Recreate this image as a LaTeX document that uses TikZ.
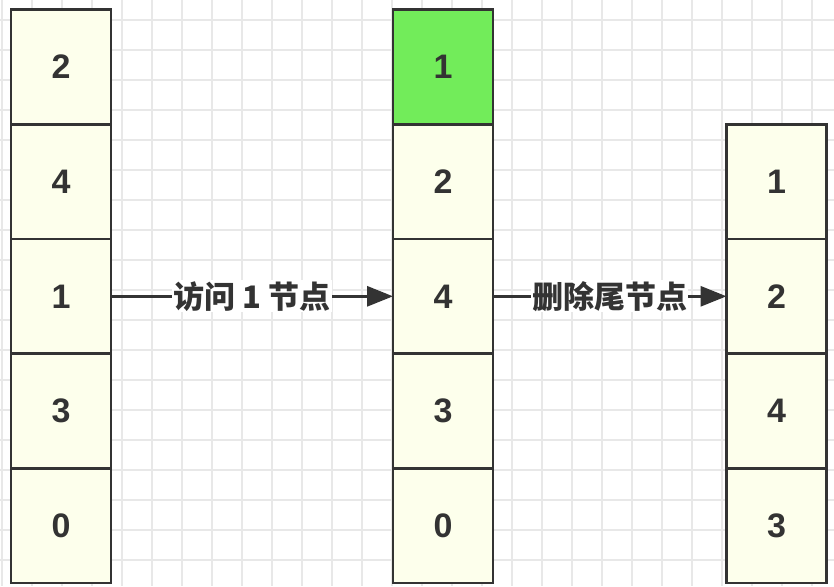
\documentclass[tikz,border=0pt]{standalone}
\usepackage{fontspec}
\setmainfont{Liberation Sans}
\newfontfamily\cjk{Noto Sans CJK SC}
\usetikzlibrary{arrows.meta}
\definecolor{cellfill}{HTML}{FDFFEC}
\definecolor{hotfill}{HTML}{72EC5A}
\definecolor{edge}{HTML}{333333}
\definecolor{gridc}{HTML}{E8E8E8}
\tikzset{
  cell/.style={draw=edge, line width=2.8pt, fill=cellfill, minimum width=100pt, minimum height=114.7pt, inner sep=0pt, outer sep=0pt, text=edge, font=\fontsize{34}{34}\selectfont\bfseries},
  hot/.style={cell, fill=hotfill},
  arr/.style={draw=edge, line width=3pt, -{Triangle[length=26pt,width=20pt]}},
  lbl/.style={fill=white, inner sep=1pt, text=edge, font=\cjk\fontsize{31}{31}\selectfont\bfseries}
}
\begin{document}
\begin{tikzpicture}[x=1pt,y=-1pt]
\useasboundingbox (0,0) rectangle (834,586);
\fill[white] (0,0) rectangle (834,586);
\foreach \gx in {2,32,...,834} \draw[gridc, line width=1.2pt] (\gx,0) -- (\gx,586);
\foreach \gy in {20,50,...,586} \draw[gridc, line width=1.2pt] (0,\gy) -- (834,\gy);
% left column
\node[cell] (l1) at (61,66.9) {2};
\node[cell] (l2) at (61,181.6) {4};
\node[cell] (l3) at (61,296.3) {1};
\node[cell] (l4) at (61,411.0) {3};
\node[cell] (l5) at (61,525.7) {0};
% middle column
\node[hot] (m1) at (443,66.9) {1};
\node[cell] (m2) at (443,181.6) {2};
\node[cell] (m3) at (443,296.3) {4};
\node[cell] (m4) at (443,411.0) {3};
\node[cell] (m5) at (443,525.7) {0};
% right column
\node[cell] (r2) at (776.5,181.6) {1};
\node[cell] (r3) at (776.5,296.3) {2};
\node[cell] (r4) at (776.5,411.0) {4};
\node[cell] (r5) at (776.5,525.7) {3};
% connectors
\draw[arr] (l3.east) -- node[lbl] {访问 1 节点} (m3.west);
\draw[arr] (m3.east) -- node[lbl] {删除尾节点} (r3.west);
\end{tikzpicture}
\end{document}
